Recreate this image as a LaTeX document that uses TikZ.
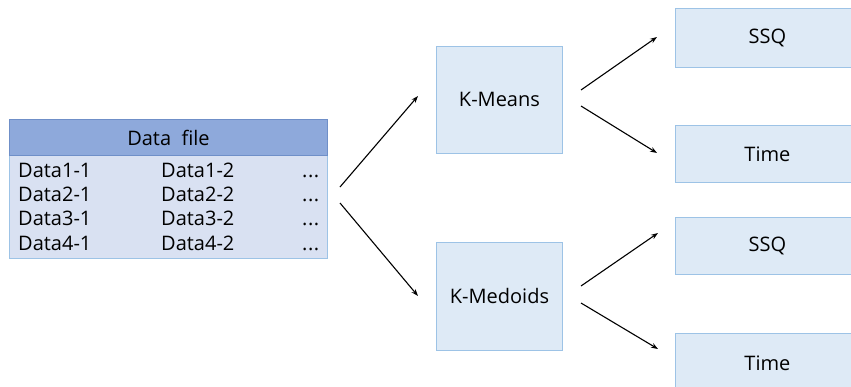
\documentclass[tikz,border=0pt]{standalone}
\usepackage{fontspec}
\setmainfont{Open Sans}
\usetikzlibrary{arrows.meta}
\definecolor{hdrfill}{HTML}{8EA9DB}
\definecolor{hdrline}{HTML}{6F8FC8}
\definecolor{bodyfill}{HTML}{D9E1F2}
\definecolor{boxfill}{HTML}{DEEAF6}
\definecolor{boxline}{HTML}{9DC3E6}
\tikzset{
  txt/.style={font=\fontsize{20}{24}\selectfont},
  box/.style={draw=boxline, fill=boxfill, line width=0.9pt, anchor=north west, inner sep=0pt, txt},
  hdr/.style={draw=hdrline, fill=hdrfill, line width=0.9pt, anchor=north west, inner sep=0pt, txt},
  bodybox/.style={draw=boxline, fill=bodyfill, line width=0.9pt, anchor=north west, inner sep=0pt},
  cell/.style={anchor=west, inner sep=0pt, text height=14.5pt, text depth=4.5pt, txt},
  arr/.style={-{Stealth[length=7pt,width=5pt]}, line width=1.1pt, black}
}
\begin{document}
\begin{tikzpicture}[x=1pt,y=-1pt]
\useasboundingbox (0,0) rectangle (851,386);
\clip (0,0) rectangle (851,386);
% data file
\node[bodybox, minimum width=318pt, minimum height=103pt] (body) at (9,155) {};
\node[hdr, minimum width=318pt, minimum height=36pt] (hdr) at (9,119) {Data\ \ file};
\foreach \r/\y in {1/172,2/196,3/220,4/245}{
  \node[cell] (c\r a) at (18,\y) {Data\r-1};
  \node[cell] (c\r b) at (161,\y) {Data\r-2};
  \node[cell] (c\r c) at (302,\y) {.\kern0.5pt.\kern0.5pt.};
}
% algorithms
\node[box, minimum width=126pt, minimum height=107pt] (km) at (436,46) {K-Means};
\node[box, minimum width=126pt, minimum height=108pt] (kd) at (436,242) {K-Medoids};
% results
\node[box, minimum width=184pt, minimum height=59pt] (ssq1) at (675,8) {SSQ};
\node[box, minimum width=184pt, minimum height=57pt] (t1) at (675,125) {Time};
\node[box, minimum width=184pt, minimum height=57pt] (ssq2) at (675,217) {SSQ};
\node[box, minimum width=184pt, minimum height=60pt] (t2) at (675,333) {Time};
% arrows
\coordinate (a1s) at (340,187); \coordinate (a1e) at (418,96);
\coordinate (a2s) at (340,203); \coordinate (a2e) at (418,296);
\coordinate (b1s) at (581,90);  \coordinate (b1e) at (657,37);
\coordinate (b2s) at (581,106); \coordinate (b2e) at (657,153);
\coordinate (b3s) at (581,286); \coordinate (b3e) at (658,233);
\coordinate (b4s) at (581,303); \coordinate (b4e) at (658,349);
\draw[arr] (a1s) -- (a1e);
\draw[arr] (a2s) -- (a2e);
\draw[arr] (b1s) -- (b1e);
\draw[arr] (b2s) -- (b2e);
\draw[arr] (b3s) -- (b3e);
\draw[arr] (b4s) -- (b4e);
\end{tikzpicture}
\end{document}
